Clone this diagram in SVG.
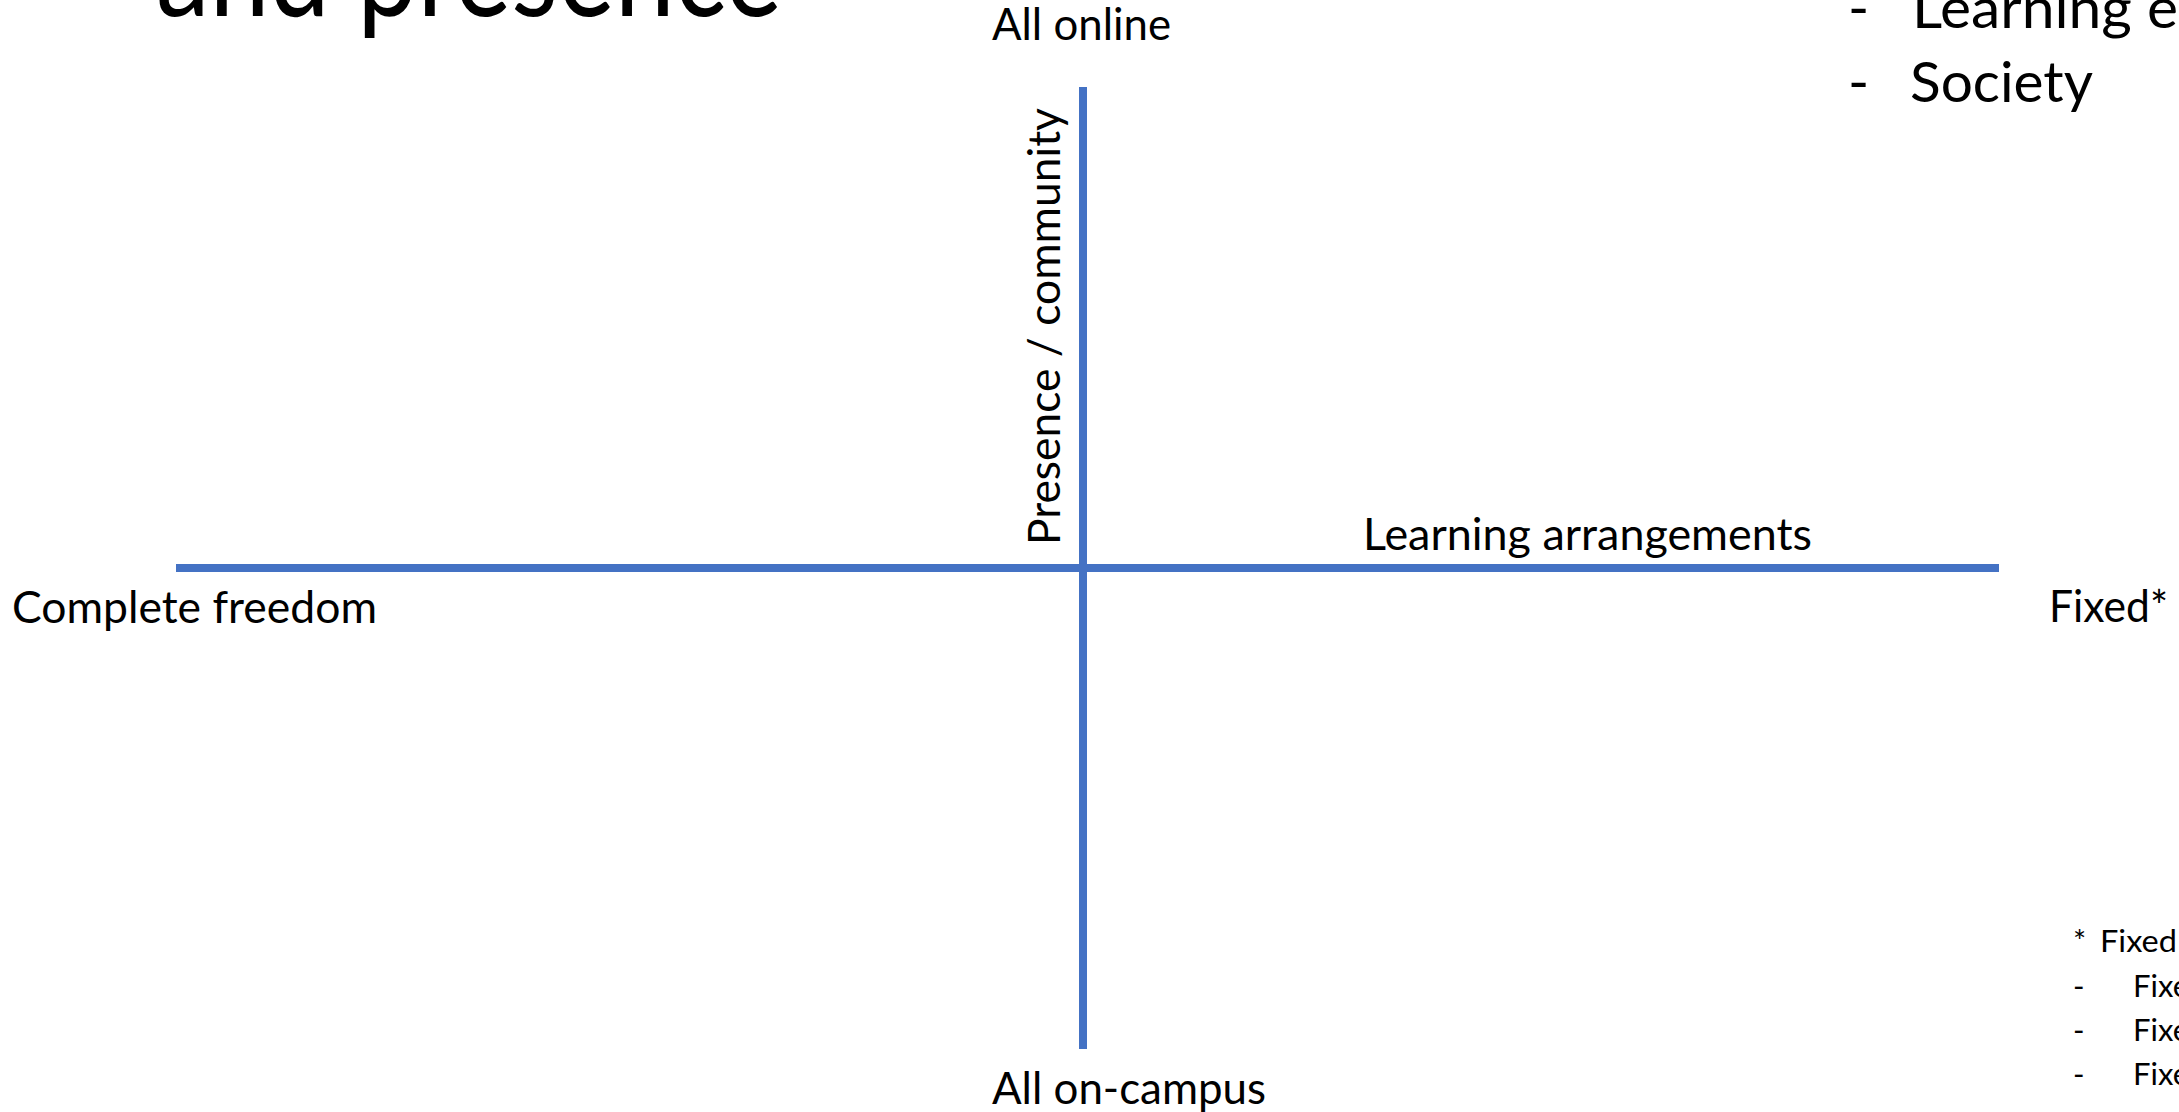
<svg xmlns="http://www.w3.org/2000/svg" width="2179" height="1112" viewBox="0 0 2179 1112">
  <style>
    .lbl { font-family: Lato, "Open Sans", "Liberation Sans", sans-serif; font-size: 44px; fill: #000; }
    .big { font-family: Lato, "Open Sans", "Liberation Sans", sans-serif; font-size: 57px; fill: #000; }
    .small { font-family: Lato, "Open Sans", "Liberation Sans", sans-serif; font-size: 31px; fill: #000; }
    .title { font-family: "Lato", "Liberation Sans", sans-serif; font-weight: 400; font-size: 128px; fill: #000; }
    .axis { stroke: #4472C4; stroke-width: 8; fill: none; }
  </style>
  <rect x="0" y="0" width="2179" height="1112" fill="#ffffff"/>

  <g id="title">
    <text class="title" x="156" y="16" textLength="626" lengthAdjust="spacingAndGlyphs">and presence</text>
  </g>

  <g id="connectors">
    <line class="axis" x1="176" y1="568" x2="1999" y2="568"/>
    <line class="axis" x1="1083" y1="87" x2="1083" y2="1049"/>
  </g>

  <g id="label-all-online">
    <text class="lbl" x="992" y="40" textLength="179" lengthAdjust="spacingAndGlyphs">All online</text>
  </g>
  <g id="label-presence">
    <text class="lbl" transform="translate(1060,545) rotate(-90)" x="0" y="0" textLength="437" lengthAdjust="spacingAndGlyphs">Presence / community</text>
  </g>
  <g id="label-learning-arrangements">
    <text class="lbl" x="1363" y="550" textLength="449" lengthAdjust="spacingAndGlyphs">Learning arrangements</text>
  </g>
  <g id="label-complete-freedom">
    <text class="lbl" x="12" y="623" textLength="365" lengthAdjust="spacingAndGlyphs">Complete freedom</text>
  </g>
  <g id="label-fixed">
    <text class="lbl" x="2049" y="622" textLength="119" lengthAdjust="spacingAndGlyphs">Fixed*</text>
  </g>
  <g id="label-all-on-campus">
    <text class="lbl" x="992" y="1104" textLength="274" lengthAdjust="spacingAndGlyphs">All on-campus</text>
  </g>

  <g id="list-top-right">
    <text class="big" x="1848" y="28">-</text>
    <text class="big" x="1912" y="28" textLength="266" lengthAdjust="spacingAndGlyphs">Learning e</text>
    <text class="big" x="1848" y="102">-</text>
    <text class="big" x="1910" y="102" textLength="183" lengthAdjust="spacingAndGlyphs">Society</text>
  </g>

  <g id="footnote">
    <text class="small" x="2073" y="952">*</text>
    <text class="small" x="2100" y="952" textLength="77" lengthAdjust="spacingAndGlyphs">Fixed</text>
    <text class="small" x="2073" y="997">-</text>
    <text class="small" x="2133" y="997">Fixe</text>
    <text class="small" x="2073" y="1041">-</text>
    <text class="small" x="2133" y="1041">Fixe</text>
    <text class="small" x="2073" y="1085">-</text>
    <text class="small" x="2133" y="1085">Fixe</text>
  </g>
</svg>
